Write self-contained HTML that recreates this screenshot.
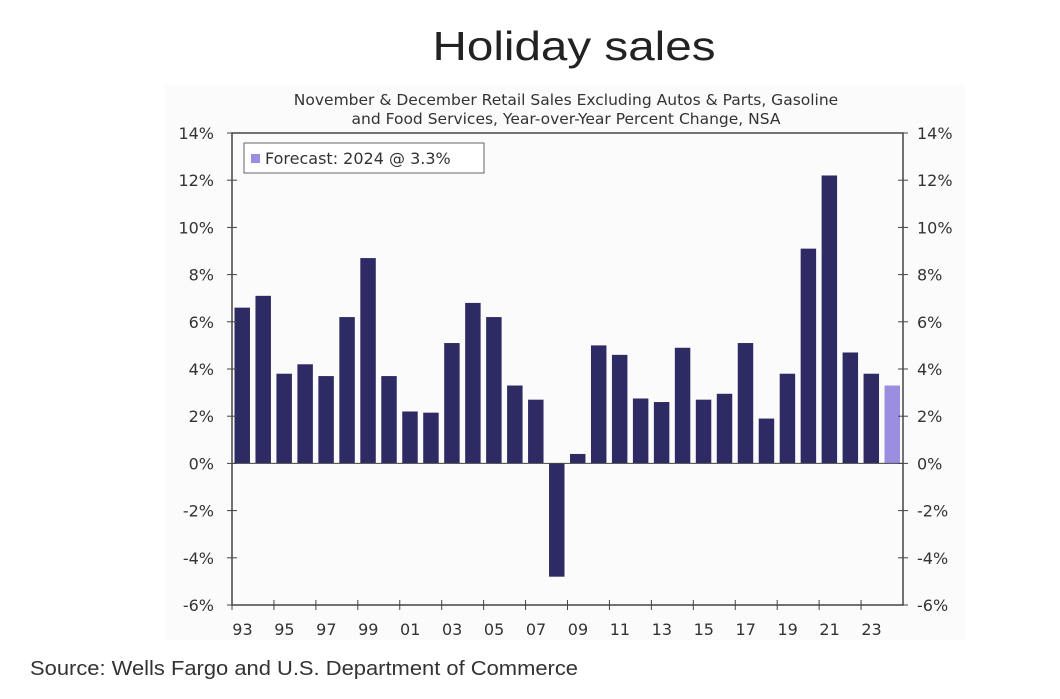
<!DOCTYPE html>
<html><head><meta charset="utf-8"><style>
body{margin:0;background:#fff;width:1060px;height:694px;overflow:hidden;font-family:"Liberation Sans",sans-serif}
</style></head><body>
<svg width="1060" height="694" xmlns="http://www.w3.org/2000/svg">
<rect x="165" y="85" width="800" height="555" fill="#fbfbfb"/>
<text x="574" y="60" text-anchor="middle" font-size="41" textLength="283" lengthAdjust="spacingAndGlyphs" fill="#222">Holiday sales</text>
<text x="566" y="105" text-anchor="middle" font-size="15.5" fill="#333" font-family="DejaVu Sans">November &amp; December Retail Sales Excluding Autos &amp; Parts, Gasoline</text>
<text x="566" y="124" text-anchor="middle" font-size="15.5" fill="#333" font-family="DejaVu Sans">and Food Services, Year-over-Year Percent Change, NSA</text>
<g id="plot"></g>
<g>
<rect x="244" y="143" width="240" height="30" fill="#fff" stroke="#666" stroke-width="1"/>
<rect x="251" y="154" width="9" height="9" fill="#9b8ee0"/>
<text x="265" y="164" font-size="16" fill="#333" font-family="DejaVu Sans">Forecast: 2024 @ 3.3%</text>
</g>
<text x="30" y="675" font-size="20" textLength="548" lengthAdjust="spacingAndGlyphs" fill="#333">Source: Wells Fargo and U.S. Department of Commerce</text>
</svg>
<script>
const years=["93","94","95","96","97","98","99","00","01","02","03","04","05","06","07","08","09","10","11","12","13","14","15","16","17","18","19","20","21","22","23","24"];
const values=[6.6,7.1,3.8,4.2,3.7,6.2,8.7,3.7,2.2,2.15,5.1,6.8,6.2,3.3,2.7,-4.8,0.4,5.0,4.6,2.75,2.6,4.9,2.7,2.95,5.1,1.9,3.8,9.1,12.2,4.7,3.8,3.3];
const forecastFlags=[0,0,0,0,0,0,0,0,0,0,0,0,0,0,0,0,0,0,0,0,0,0,0,0,0,0,0,0,0,0,0,1];
const yTicks=[-6,-4,-2,0,2,4,6,8,10,12,14];
const NS="http://www.w3.org/2000/svg";
const L=232,R=903,T=133,B=605,yMin=-6,yMax=14;
const y=v=>B-(v-yMin)/(yMax-yMin)*(B-T);
const slot=(R-L)/years.length;
const x=i=>L+i*slot;
const g=document.getElementById('plot');
function mk(tag,attrs){const e=document.createElementNS(NS,tag);for(const k in attrs)e.setAttribute(k,attrs[k]);g.appendChild(e);return e;}
values.forEach((v,i)=>{
  const r=mk('rect',{x:x(i)+2.5,width:slot-5.5,y:Math.min(y(v),y(0)),height:Math.abs(y(v)-y(0)),fill:forecastFlags[i]?'#9b8ee0':'#2e2a63'});
  
  
});
const ax=mk('path',{d:`M${L},${T}H${R}V${B}H${L}Z`,fill:'none',stroke:'#444','stroke-width':1.5});


mk('line',{x1:L,x2:R,y1:y(0),y2:y(0),stroke:'#444','stroke-width':1});
yTicks.forEach(t=>{
  mk('line',{x1:L-5,x2:L+5,y1:y(t),y2:y(t),stroke:'#444'});
  mk('line',{x1:R-5,x2:R+5,y1:y(t),y2:y(t),stroke:'#444'});
  const a=mk('text',{x:L-18,y:y(t)+6,'text-anchor':'end','font-size':16,fill:'#333','font-family':'DejaVu Sans'});
  a.textContent=t+'%';
  
  
  const b=mk('text',{x:R+14,y:y(t)+6,'text-anchor':'start','font-size':16,fill:'#333','font-family':'DejaVu Sans'});
  b.textContent=t+'%';
  
  
});
years.forEach((yr,i)=>{
  if(i%2===0){
    mk('line',{x1:x(i),x2:x(i),y1:B-5,y2:B+5,stroke:'#444'});
    const t=mk('text',{x:x(i)+slot/2,y:B+30,'text-anchor':'middle','font-size':16,fill:'#333','font-family':'DejaVu Sans'});
    t.textContent=yr;
    
    
  }
});
</script>
</body></html>
